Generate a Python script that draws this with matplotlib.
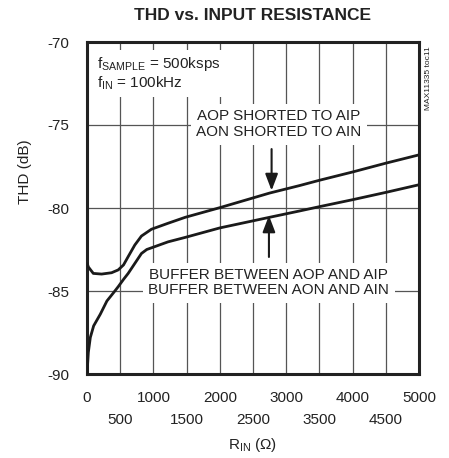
import matplotlib
matplotlib.use("Agg")
import matplotlib.pyplot as plt
from matplotlib import font_manager

# ---- data ----
r_shorted = [0, 20, 95, 220, 370, 470, 550, 620, 720, 820, 970, 1220, 1480,
             2000, 2750, 3200, 3500, 4000, 4500, 5000]
thd_shorted = [-83.3, -83.55, -83.94, -83.98, -83.9, -83.73, -83.43, -82.93,
               -82.23, -81.69, -81.28, -80.92, -80.56, -79.98, -79.1, -78.65,
               -78.33, -77.83, -77.3, -76.8]

r_buffer = [0, 20, 50, 100, 200, 300, 400, 470, 550, 620, 720, 820, 900, 970,
            1220, 1480, 2000, 2750, 3200, 3500, 4000, 4500, 5000]
thd_buffer = [-90.0, -88.7, -87.8, -87.1, -86.4, -85.6, -85.1, -84.74, -84.3,
              -83.94, -83.34, -82.74, -82.5, -82.4, -82.04, -81.77, -81.2,
              -80.56, -80.18, -79.92, -79.5, -79.06, -78.6]

major_x = [0, 1000, 2000, 3000, 4000, 5000]
minor_x = [500, 1500, 2500, 3500, 4500]
y_ticks = [-90, -85, -80, -75, -70]

title = "THD vs. INPUT RESISTANCE"
label_shorted = "AOP SHORTED TO AIP\nAON SHORTED TO AIN"
label_buffer = "BUFFER BETWEEN AOP AND AIP\nBUFFER BETWEEN AON AND AIN"
cond_text = "f$_{\\mathrm{SAMPLE}}$ = 500ksps\nf$_{\\mathrm{IN}}$ = 100kHz"

# ---- fonts ----
names = {f.name for f in font_manager.fontManager.ttflist}
fam = "Liberation Sans Narrow" if "Liberation Sans Narrow" in names else "Liberation Sans"
narrow = fam == "Liberation Sans Narrow"
plt.rcParams["font.family"] = [fam, "DejaVu Sans"]
plt.rcParams["mathtext.fontset"] = "custom"
plt.rcParams["mathtext.rm"] = fam
plt.rcParams["mathtext.it"] = fam
plt.rcParams["mathtext.bf"] = fam + ":bold"
fs = 13 if narrow else 11
tfs = 14 if narrow else 12.5

W, H = 449, 458
fig = plt.figure(figsize=(W / 100, H / 100), dpi=100)
L, R, T, B = 87, 419, 42, 374
ax = fig.add_axes([L / W, (H - B) / H, (R - L) / W, (B - T) / H])

ax.set_xlim(0, 5000)
ax.set_ylim(-90, -70)

ax.set_xticks(major_x)
ax.set_xticklabels([str(v) for v in major_x])
ax.set_xticks(minor_x, minor=True)
ax.set_xticklabels([str(v) for v in minor_x], minor=True)
ax.set_yticks(y_ticks)
ax.set_yticklabels([str(v) for v in y_ticks])
ax.tick_params(which="both", length=0, labelsize=fs, colors="#222222")
ax.tick_params(axis="x", which="major", pad=12)
ax.tick_params(axis="x", which="minor", pad=28)
ax.tick_params(axis="y", pad=13)

ax.grid(True, which="both", color="#555555", linewidth=0.9, zorder=0)
ax.set_axisbelow(True)
for s in ax.spines.values():
    s.set_linewidth(2.2)
    s.set_color("#222222")

ax.plot(r_shorted, thd_shorted, color="#1a1a1a", lw=2.0, zorder=3,
        solid_capstyle="butt", solid_joinstyle="round")
ax.plot(r_buffer, thd_buffer, color="#1a1a1a", lw=2.0, zorder=3,
        solid_capstyle="butt", solid_joinstyle="round")

box = dict(boxstyle="square,pad=0.35", facecolor="white", edgecolor="none")
ax.text(150, -71.9, cond_text, fontsize=fs, ha="left", va="center",
        color="#222222", bbox=dict(boxstyle="square,pad=0.3", facecolor="white",
                                   edgecolor="none"), zorder=2, linespacing=1.15)
ax.text(2890, -74.95, label_shorted, fontsize=fs, ha="center", va="center",
        color="#222222", bbox=box, zorder=2, linespacing=1.2)
ax.text(2740, -84.5, label_buffer, fontsize=fs, ha="center", va="center",
        color="#222222", bbox=box, zorder=2, linespacing=1.1)

arrowprops = dict(arrowstyle="-|>,head_length=1.0,head_width=0.38",
                  color="#1a1a1a", lw=1.5, shrinkA=0, shrinkB=0)
ax.annotate("", xy=(2780, -78.95), xytext=(2780, -76.45),
            arrowprops=arrowprops, zorder=4)
ax.annotate("", xy=(2740, -80.45), xytext=(2740, -82.95),
            arrowprops=arrowprops, zorder=4)

fig.text(252 / W, 1 - 16 / H, title, fontsize=tfs, fontweight="bold",
         ha="center", va="center", color="#222222")
fig.text(25 / W, 1 - 172 / H, "THD (dB)", fontsize=fs, rotation=90,
         ha="center", va="center", color="#222222")
fig.text(253 / W, 1 - 445 / H, "R$_{\\mathrm{IN}}$ (\u03a9)", fontsize=fs,
         ha="center", va="center", color="#222222")
fig.text(429 / W, 1 - 78 / H, "MAX11335 toc11", fontsize=7 if narrow else 6,
         rotation=90, ha="center", va="center", color="#222222")

fig.savefig("out.png", dpi=100)
